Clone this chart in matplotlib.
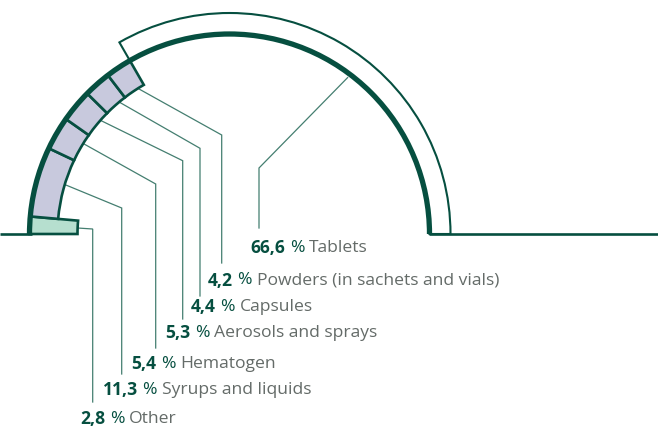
import matplotlib
matplotlib.use("Agg")
import matplotlib.pyplot as plt
from matplotlib.patches import Wedge, Arc
import numpy as np

# Share of dosage forms, %
categories = ["Other", "Syrups and liquids", "Hematogen", "Aerosols and sprays",
              "Capsules", "Powders (in sachets and vials)", "Tablets"]
values = [2.8, 11.3, 5.4, 5.3, 4.4, 4.2, 66.6]
value_labels = ["2,8", "11,3", "5,4", "5,3", "4,4", "4,2", "66,6"]

DARK = "#064f40"
LILAC = "#c8c9dd"
MINT = "#b6dfcf"
LEADER = "#447e70"
GREY = "#646b68"

W, H = 658, 427
fig = plt.figure(figsize=(W / 100, H / 100), dpi=100)
ax = fig.add_axes([0, 0, 1, 1])
ax.set_xlim(0, W)
ax.set_ylim(0, H)
ax.set_aspect("equal")
ax.axis("off")

cx, cy = 229.5, H - 235
R = 200          # main arc radius
R_OUT = 221      # outer radius of the tablets band
R_IN = 172       # inner radius of the small segments
R_OTHER = 152    # inner radius of the "Other" segment

# angles: start at the left end of the half circle (180 deg) and go clockwise
total = sum(values)
spans = [v / total * 180.0 for v in values]
ends = 180 - np.cumsum(spans)
starts = np.concatenate([[180], ends[:-1]])

# baseline
ax.plot([0, cx - R + 2], [cy, cy], color=DARK, lw=1.9, solid_capstyle="butt", zorder=2)
ax.plot([cx + R, W], [cy, cy], color=DARK, lw=1.9, solid_capstyle="butt", zorder=2)

mids = []
for i, (cat, a0, a1) in enumerate(zip(categories, starts, ends)):
    mids.append((a0 + a1) / 2)
    if cat == "Tablets":
        w = Wedge((cx, cy), R_OUT, a1, a0, width=R_OUT - R, fc="white",
                  ec=DARK, lw=1.5, zorder=3)
    elif cat == "Other":
        w = Wedge((cx, cy), R, a1, a0, width=R - R_OTHER, fc=MINT,
                  ec=DARK, lw=1.9, zorder=3)
    else:
        w = Wedge((cx, cy), R, a1, a0, width=R - R_IN, fc=LILAC,
                  ec=DARK, lw=1.9, zorder=3)
    ax.add_patch(w)

# heavy main arc
ax.add_patch(Arc((cx, cy), 2 * R, 2 * R, theta1=0, theta2=180,
                 color=DARK, lw=3.8, zorder=4))

# leader lines: (start radius, bend x, bend y(px), bottom y(px))
leaders = {
    "Other": (R_OTHER, 92.7, 230, 403),
    "Syrups and liquids": (R_IN, 121.7, 209, 375),
    "Hematogen": (R_IN, 155.7, 185, 349),
    "Aerosols and sprays": (R_IN, 182.7, 161.7, 320),
    "Capsules": (R_IN, 200, 149.3, 297),
    "Powders (in sachets and vials)": (R_IN, 221.7, 136, 264),
    "Tablets": (R - 4, 259, 169, 229),
}
# label anchors (x, y center in px)
label_pos = {
    "Other": (80, 419),
    "Syrups and liquids": (102.5, 390.5),
    "Hematogen": (131.5, 364.5),
    "Aerosols and sprays": (165, 333.5),
    "Capsules": (191, 307.5),
    "Powders (in sachets and vials)": (208, 280.5),
    "Tablets": (250.5, 248),
}

for cat, mid in zip(categories, mids):
    r0, bx, by, ey = leaders[cat]
    if cat == "Other":
        sx, sy = cx - r0, H - 229
    else:
        ang = np.deg2rad(mid - 1.5 if cat != "Tablets" else mid - 7)
        sx, sy = cx + r0 * np.cos(ang), cy + r0 * np.sin(ang)
    ax.plot([sx, bx, bx], [sy, H - by, H - ey], color=LEADER, lw=0.9,
            solid_joinstyle="miter", zorder=1)

FONT = "Open Sans"
FS = 12.6
fig.canvas.draw()
renderer = fig.canvas.get_renderer()
inv = ax.transData.inverted()

def width_data(t):
    bb = t.get_window_extent(renderer=renderer)
    (x0, _), (x1, _) = inv.transform([[bb.x0, 0], [bb.x1, 0]])
    return x1 - x0

for cat, vl in zip(categories, value_labels):
    x, y = label_pos[cat]
    y = H - y
    t1 = ax.text(x, y, vl, fontsize=FS, fontweight="bold", color=DARK,
                 family=FONT, va="center", ha="left")
    x += width_data(t1) + 4.5
    t2 = ax.text(x, y, "%", fontsize=FS, color=DARK, family=FONT,
                 va="center", ha="left")
    x += width_data(t2) + 5
    ax.text(x, y, cat, fontsize=FS, color=GREY, family=FONT,
            va="center", ha="left")

fig.savefig("out.png", dpi=100, facecolor="white")
